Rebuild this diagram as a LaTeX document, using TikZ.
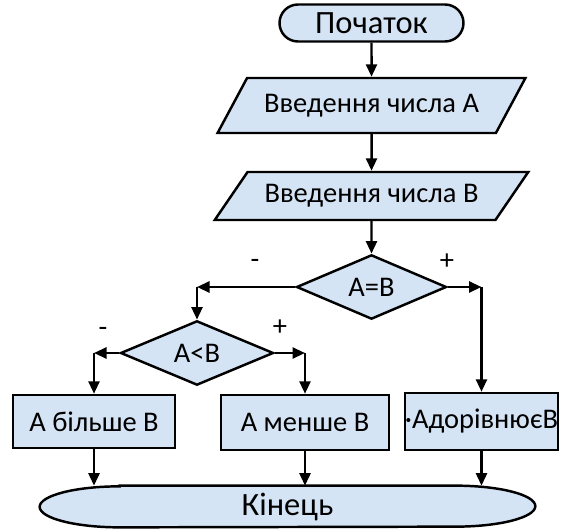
\documentclass[tikz,border=0pt]{standalone}
\usepackage{fontspec}
\setmainfont{Carlito}
\usetikzlibrary{arrows.meta,positioning,shapes.geometric,shapes.misc,calc,backgrounds}
\definecolor{paleblue}{RGB}{213,228,245}
\tikzset{
  >={Triangle[length=2.5mm,width=2.2mm]},
  flow/.style={->,line width=1.4pt},
  txt/.style={font=\fontsize{16.2}{19}\selectfont},
  bigtxt/.style={font=\fontsize{18.5}{21}\selectfont},
  term/.style={rounded rectangle,draw,line width=1.4pt,fill=paleblue,inner sep=0pt,bigtxt},
  io/.style={trapezium,trapezium stretches=true,trapezium left angle=#1,
    trapezium right angle=180-#1,draw,line width=1.4pt,fill=paleblue,inner sep=0pt,txt},
  io/.default=40,
  decision/.style={diamond,draw,line width=1.4pt,fill=paleblue,inner sep=0pt,txt},
  proc/.style={rectangle,draw,line width=1.4pt,fill=paleblue,inner sep=0pt,txt},
  sign/.style={txt},
}
\begin{document}
\begin{tikzpicture}
  \useasboundingbox (0,0) rectangle (11.34,-10.6);
  \node[term,minimum width=3.68cm,minimum height=0.74cm] (start) at (7.43,-0.46) {Початок};
  \node[io=42,minimum width=6.16cm,minimum height=1.1cm] (inA) at (7.43,-2.11) {Введення числа А};
  \node[io=39,minimum width=6.28cm,minimum height=0.96cm] (inB) at (7.43,-3.92) {Введення числа В};
  \node[decision,minimum width=3.0cm,minimum height=1.22cm] (eq) at (7.43,-5.74) {А=В};
  \node[decision,minimum width=3.06cm,minimum height=1.26cm] (less) at (3.94,-7.06) {А<В};
  \node[proc,minimum width=3.24cm,minimum height=1.06cm] (more) at (1.88,-8.43) {А більше В};
  \node[proc,minimum width=3.36cm,minimum height=1.1cm] (fewer) at (6.10,-8.45) {А менше В};
  \node[proc,minimum width=2.98cm,minimum height=1.14cm] (same) at (9.63,-8.43) {·АдорівнюєВ};
  \node[bigtxt,minimum width=9.9cm,minimum height=0.82cm,inner sep=0pt] (stop) at (5.75,-10.13) {Кінець};
  \begin{scope}[on background layer]
    \draw[line width=1.4pt,fill=paleblue] ([xshift=1.6cm]stop.north west) -- ([xshift=-1.6cm]stop.north east)
      arc[start angle=90,end angle=-90,x radius=1.6cm,y radius=0.41cm]
      -- ([xshift=1.6cm]stop.south west)
      arc[start angle=270,end angle=90,x radius=1.6cm,y radius=0.41cm] -- cycle;
  \end{scope}
  % signs
  \node[sign] (eqno) at (5.10,-5.28) {-};
  \node[sign] (eqyes) at (8.94,-5.24) {+};
  \node[sign] (lessno) at (2.06,-6.64) {-};
  \node[sign] (lessyes) at (5.60,-6.56) {+};
  % corners
  \coordinate (cL) at (eq.west -| less.north);
  \coordinate (cR) at (eq.east -| same.north);
  \coordinate (c1) at (less.west -| more.north);
  \coordinate (c2) at (less.east -| fewer.north);
  \draw[flow] (start) -- (inA);
  \draw[flow] (inA) -- (inB);
  \draw[flow] (inB) -- (eq);
  \draw[flow] (eq.west) -- (cL);
  \draw[flow] (cL) -- (less.north);
  \draw[flow] (eq.east) -- (cR);
  \draw[flow] (cR) -- (same.north);
  \draw[flow] (less.west) -- (c1);
  \draw[flow] (c1) -- (more.north);
  \draw[flow] (less.east) -- (c2);
  \draw[flow] (c2) -- (fewer.north);
  \foreach \b in {more,fewer,same} \draw[flow] (\b.south) -- (\b.south |- stop.north);
\end{tikzpicture}
\end{document}
